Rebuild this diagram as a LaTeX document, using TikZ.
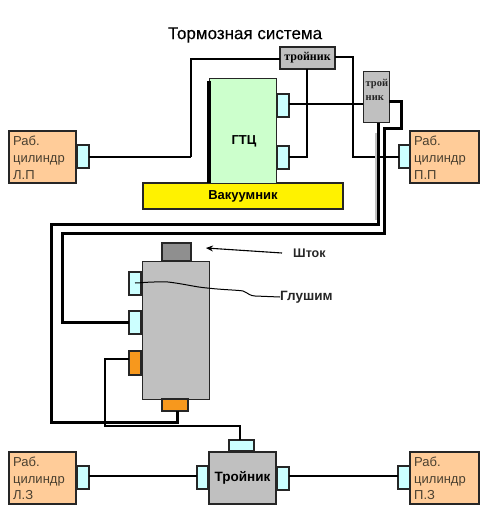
\documentclass[tikz,border=0pt]{standalone}
\usepackage{fontspec}
\setmainfont{Liberation Sans}
\newfontfamily\serifb[BoldFont={Liberation Serif Bold}]{Liberation Serif}
\usetikzlibrary{arrows.meta}
\newcommand{\bx}[6]{%
  \pgfmathsetmacro{\bw}{#5-#3}\pgfmathsetmacro{\bh}{#6-#4}%
  \pgfmathsetmacro{\bcx}{(#3+#5)/2}\pgfmathsetmacro{\bcy}{(#4+#6)/2}%
  \node[#2,minimum width=\bw pt,minimum height=\bh pt] (#1) at (\bcx,\bcy)}
\definecolor{cylc}{HTML}{FFCC99}
\definecolor{portc}{HTML}{CCFFFF}
\definecolor{orangec}{HTML}{F7981D}
\definecolor{grayc}{HTML}{C0C0C0}
\definecolor{rodc}{HTML}{8F8F8F}
\definecolor{greenc}{HTML}{CCFFCC}
\definecolor{cyltx}{HTML}{4A4030}
\tikzset{
  base/.style={rectangle,inner sep=0pt,outer sep=0pt,draw=black!85,line width=1.4pt},
  cyl/.style={base,fill=cylc,line width=1.3pt},
  portb/.style={base,fill=portc,line width=1.7pt},
  porto/.style={base,fill=orangec,line width=1.7pt},
  pipe/.style={draw=black,line width=2pt,line join=miter},
  pipeb/.style={draw=black,line width=3pt,line join=miter},
  cyltext/.style={font=\fontsize{13}{16.8}\selectfont,text=cyltx,align=left,anchor=north west,inner sep=0pt},
  lab/.style={font=\fontsize{12.5}{14}\selectfont\bfseries,text=black!85,inner sep=0pt}
}
\begin{document}
\begin{tikzpicture}[x=1pt,y=-1pt]
\useasboundingbox (0,0) rectangle (480,505);
% title
\node[font=\fontsize{17}{19}\selectfont\addfontfeature{FakeBold=0.3},inner sep=0pt,text=black] (title) at (245,35) {Тормозная система};
% boxes
\bx{vac}{base,fill=yellow}{143}{183}{343}{209} {\fontsize{13}{15}\selectfont\bfseries Вакуумник};
\bx{gtc}{base,fill=greenc,line width=1pt}{209}{79}{276}{183} {};
\node[font=\fontsize{13}{15}\selectfont\bfseries,inner sep=0pt] (gtct) at (244,141) {ГТЦ};
\bx{gp1}{portb}{277}{94}{289}{117} {};
\bx{gp2}{portb}{277}{146}{289}{169} {};
\bx{tee}{base,fill=grayc,line width=2.6pt}{280}{47}{335}{69} {\serifb\fontsize{12}{13}\selectfont\bfseries тройник};
\bx{teeb}{base,fill=grayc,line width=1pt}{363}{72}{389}{123} {};
\node[font=\serifb\fontsize{10.5}{14}\selectfont\bfseries,align=left,anchor=north west,inner sep=0pt,text=black!85] (teebt) at (365.5,79) {трой\\ник};
\bx{clp}{cyl}{9}{131}{76}{183} {};
\bx{plp}{portb}{77}{145}{89}{168} {};
\bx{cpp}{cyl}{410}{131}{479}{183} {};
\bx{ppp}{portb}{399}{145}{410}{168} {};
\bx{mc}{base,fill=grayc,line width=1pt}{142}{261}{209}{399} {};
\bx{rod}{base,fill=rodc}{162}{243}{191}{261} {};
\bx{mp1}{portb}{129}{272}{141}{295} {};
\bx{mp2}{portb}{129}{311}{141}{334} {};
\bx{mo1}{porto}{129}{351}{141}{375} {};
\bx{mo2}{porto}{162}{399}{188}{411} {};
\bx{clz}{cyl}{9}{452}{76}{504} {};
\bx{plz}{portb}{77}{466}{89}{489} {};
\bx{tr}{base,fill=grayc,line width=1.3pt}{209}{452}{276}{504} {\fontsize{13.5}{15}\selectfont\bfseries Тройник};
\bx{trt}{portb}{229}{440}{254}{451} {};
\bx{trl}{portb}{197}{466}{208}{489} {};
\bx{trr}{portb}{277}{467}{289}{490} {};
\bx{cpz}{cyl}{410}{452}{479}{504} {};
\bx{ppz}{portb}{398}{466}{410}{489} {};
% cylinder texts
\node[cyltext] (t1) at (13,136) {Раб.\\цилиндр\\Л.П};
\node[cyltext] (t2) at (414,136) {Раб.\\цилиндр\\П.П};
\node[cyltext] (t3) at (13,456.5) {Раб.\\цилиндр\\Л.З};
\node[cyltext] (t4) at (414,456.5) {Раб.\\цилиндр\\П.З};
% labels
\node[lab,anchor=west] (shtok) at (293,253) {Шток};
\node[lab,anchor=west,font=\fontsize{13.5}{15}\selectfont\bfseries] (glush) at (280,297) {Глушим};
% bend points
\coordinate (a1) at (191,59);
\coordinate (a2) at (307,157);
\coordinate (a3) at (353,57);
\coordinate (b1) at (401,102);
\coordinate (b2) at (384,129);
\coordinate (b3) at (62,233);
\coordinate (c1) at (378,224);
\coordinate (c2) at (51,422);
\coordinate (c3) at (177,422);
\coordinate (d1) at (105,359);
\coordinate (d2) at (240,426);
\coordinate (sa) at (282,253);
\coordinate (sb) at (206,248);
% pipes
\draw[pipe] (plp.east) -- (plp.east -| a1);
\draw[pipeb,line width=2.6pt] (plp.east -| a1) -- (a1) -- (tee.west |- a1);
\draw[pipe,line width=2.4pt] (gp2.east |- a2) -- (a2) -- (a2 |- tee.south);
\draw[pipe] (gp1.east |- 0,104) -- (teeb.west |- 0,104);
\draw[pipe] (tee.east |- a3) -- (a3) -- (a3 |- ppp.west) -- (ppp.west);
\draw[grayc,line width=2pt] (376,133) -- (376,220);
\draw[pipeb] (teeb.east |- b1) -- (b1) -- (b1 |- b2) -- (b2) -- (b2 |- b3) -- (b3) -- (b3 |- mp2.west) -- (mp2.west);
\draw[pipeb] (c1 |- teeb.south) -- (c1) -- (c2 |- c1) -- (c2) -- (c3) -- (c3 |- mo2.south);
\draw[pipe] (mo1.west |- d1) -- (d1) -- (d1 |- d2) -- (d2) -- (d2 |- trt.north);
\draw[pipe] (plz.east |- 0,476) -- (trl.west |- 0,476);
\draw[pipe] (trr.east |- 0,476) -- (ppz.west |- 0,476);
% left thick bar
\draw[line width=3.4pt] (gtc.north west) ++(0,2) -- (gtc.south west);
% arrow and curve
\draw[-{Stealth[length=7pt,width=6pt]},line width=1.1pt] (sa) -- (sb);
\draw[line width=1pt,line join=round] (135,283) .. controls (140,283) and (150,281.5) .. (168,282) .. controls (185,284) and (195,287) .. (207,288) .. controls (225,290) and (238,290) .. (243,291) .. controls (248,293) and (250,296) .. (255,296) -- (glush.west);
\end{tikzpicture}
\end{document}
